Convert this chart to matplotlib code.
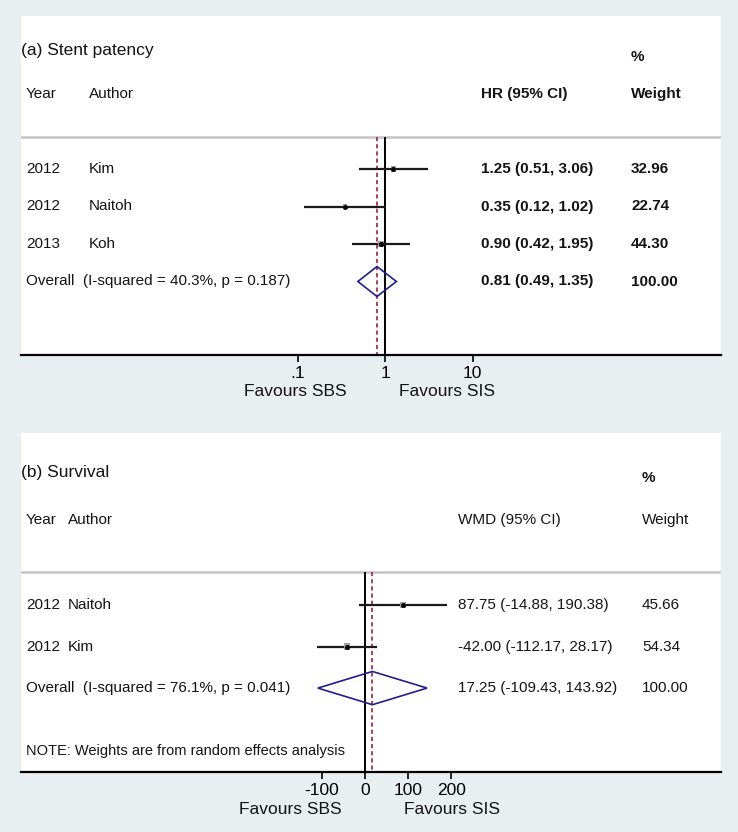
"""
Forest plots: (a) stent patency HR and (b) survival WMD, SBS vs SIS.
"""

import numpy as np
import matplotlib
matplotlib.use("Agg")
import matplotlib.pyplot as plt
import matplotlib.transforms as mtransforms
from matplotlib.patches import Polygon

plt.rcParams['font.family'] = ['Liberation Sans', 'DejaVu Sans']

# (a) stent patency, hazard ratios
a_years = ['2012', '2012', '2013']
a_authors = ['Kim', 'Naitoh', 'Koh']
a_est = [1.25, 0.35, 0.90]
a_low = [0.51, 0.12, 0.42]
a_high = [3.06, 1.02, 1.95]
a_weight = [32.96, 22.74, 44.30]
a_overall = [0.81, 0.49, 1.35]
a_het = 'Overall  (I-squared = 40.3%, p = 0.187)'
a_ticks = [0.1, 1, 10]
a_ticklabels = ['.1', '1', '10']

# (b) survival, weighted mean difference
b_years = ['2012', '2012']
b_authors = ['Naitoh', 'Kim']
b_est = [87.75, -42.00]
b_low = [-14.88, -112.17]
b_high = [190.38, 28.17]
b_weight = [45.66, 54.34]
b_overall = [17.25, -109.43, 143.92]
b_het = 'Overall  (I-squared = 76.1%, p = 0.041)'
b_ticks = [-100, 0, 100, 200]
b_ticklabels = ['-100', '0', '100', '200']

W, H = 738, 832
BG = '#e8eff1'
TXT = '#141414'
FS = 11

fig = plt.figure(figsize=(W / 100, H / 100), dpi=100, facecolor=BG)


def px_axes(x0, y0, x1, y1):
    """Axes placed by its pixel box (top-left origin)."""
    return fig.add_axes([x0 / W, 1 - y1 / H, (x1 - x0) / W, (y1 - y0) / H])


def fig_text(px, py, s, **kw):
    fig.text(px / W, 1 - py / H, s, **kw)


def forest(ax, years, authors, est, low, high, weight, overall, het,
           null_value, gray_y, cols, bold_vals):
    """Draw study rows, pooled diamond and the reference lines."""
    x0, x1 = 21, 721
    tr = mtransforms.blended_transform_factory(ax.transAxes, ax.transData)

    def col(px):
        return (px - x0) / (x1 - x0)

    rows = np.arange(len(est))
    ov_row = len(est)
    bottom = ax.get_ylim()[0]

    ax.axhline(gray_y, color='#c4c4c4', lw=1.8, zorder=1)
    ax.vlines(null_value, gray_y, bottom, color='black', lw=1.4, zorder=2)
    ax.vlines(overall[0], gray_y, bottom, color='#9b2335', lw=1.2,
              linestyles=(0, (2.5, 1.8)), zorder=2)

    ax.hlines(rows, low, high, color='#1a1a1a', lw=1.6, zorder=3)
    ax.scatter(est, rows, s=np.array(weight) * 0.4, marker='s',
               color='#a0a0a0', zorder=3, linewidths=0)
    ax.plot(est, rows, 'o', color='black', ms=2.6, zorder=4)

    e, lo, hi = overall
    ax.add_patch(Polygon([(lo, ov_row), (e, ov_row - 0.4), (hi, ov_row),
                          (e, ov_row + 0.4)], closed=True, fill=False,
                         ec='#1f1f8c', lw=1.2, zorder=4))

    vw = 'bold' if bold_vals else 'normal'
    for i in rows:
        ax.text(col(cols['year']), i, years[i], transform=tr, va='center',
                fontsize=FS, color=TXT)
        ax.text(col(cols['author']), i, authors[i], transform=tr,
                va='center', fontsize=FS, color=TXT)
        ax.text(col(cols['ci']), i,
                f'{est[i]:.2f} ({low[i]:.2f}, {high[i]:.2f})', transform=tr,
                va='center', fontsize=FS, color=TXT, fontweight=vw)
        ax.text(col(cols['wt']), i, f'{weight[i]:.2f}', transform=tr,
                va='center', fontsize=FS, color=TXT, fontweight=vw)
    ax.text(col(cols['year']), ov_row, het, transform=tr, va='center',
            fontsize=FS, color=TXT)
    ax.text(col(cols['ci']), ov_row,
            f'{overall[0]:.2f} ({overall[1]:.2f}, {overall[2]:.2f})',
            transform=tr, va='center', fontsize=FS, color=TXT, fontweight=vw)
    ax.text(col(cols['wt']), ov_row, '100.00', transform=tr, va='center',
            fontsize=FS, color=TXT, fontweight=vw)

    # header
    ax.text(col(cols['title']), cols['title_y'], cols['title_s'],
            transform=tr, va='center', fontsize=12.5, color=TXT)
    ax.text(col(cols['wt']), cols['pct_y'], '%', transform=tr, va='center',
            fontsize=FS, color=TXT, fontweight='bold')
    ax.text(col(cols['year']), cols['head_y'], 'Year', transform=tr,
            va='center', fontsize=FS, color=TXT)
    ax.text(col(cols['author']), cols['head_y'], 'Author', transform=tr,
            va='center', fontsize=FS, color=TXT)
    ax.text(col(cols['ci']), cols['head_y'], cols['eff'], transform=tr,
            va='center', fontsize=FS, color=TXT, fontweight=vw)
    ax.text(col(cols['wt']), cols['head_y'], 'Weight', transform=tr,
            va='center', fontsize=FS, color=TXT, fontweight=vw)


def style_axis(ax, ticks, ticklabels):
    for side in ['top', 'left', 'right']:
        ax.spines[side].set_visible(False)
    ax.spines['bottom'].set_linewidth(1.6)
    ax.spines['bottom'].set_color('black')
    ax.set_yticks([])
    ax.set_xticks(ticks)
    ax.set_xticklabels(ticklabels)
    ax.xaxis.set_minor_locator(matplotlib.ticker.NullLocator())
    ax.tick_params(axis='x', direction='out', length=5, width=1.2,
                   pad=3, labelsize=12.5, colors='black')
    ax.set_facecolor('white')


# ---- panel (a) ----
ax_a = px_axes(21, 16, 721, 355)
ax_a.set_xscale('log')
ax_a.set_xlim(10 ** ((21 - 385) / 87.5), 10 ** ((721 - 385) / 87.5))
ax_a.set_ylim(4.96, -4.08)
style_axis(ax_a, a_ticks, a_ticklabels)
forest(ax_a, a_years, a_authors, a_est, a_low, a_high, a_weight, a_overall,
       a_het, 1, -0.85,
       {'year': 26, 'author': 89, 'ci': 481, 'wt': 631, 'title': 21,
        'title_y': -3.17, 'pct_y': -2.99, 'head_y': -2.0,
        'title_s': '(a) Stent patency', 'eff': 'HR (95% CI)'},
       bold_vals=True)
fig_text(295, 392, 'Favours SBS', ha='center', va='center', fontsize=12.5,
         color=TXT)
fig_text(447, 392, 'Favours SIS', ha='center', va='center', fontsize=12.5,
         color=TXT)

# ---- panel (b) ----
ax_b = px_axes(21, 433, 721, 772)
ax_b.set_xlim((21 - 365) / 0.431, (721 - 365) / 0.431)
ax_b.set_ylim(4.02, -4.14)
style_axis(ax_b, b_ticks, b_ticklabels)
forest(ax_b, b_years, b_authors, b_est, b_low, b_high, b_weight, b_overall,
       b_het, 0, -0.8,
       {'year': 26, 'author': 68, 'ci': 458, 'wt': 642, 'title': 21,
        'title_y': -3.18, 'pct_y': -3.06, 'head_y': -2.05,
        'title_s': '(b) Survival', 'eff': 'WMD (95% CI)'},
       bold_vals=False)
ax_b.text(5 / 700, 3.52, 'NOTE: Weights are from random effects analysis',
          transform=mtransforms.blended_transform_factory(ax_b.transAxes,
                                                          ax_b.transData),
          va='center', fontsize=10.5, color=TXT)
fig_text(290, 810, 'Favours SBS', ha='center', va='center', fontsize=12.5,
         color=TXT)
fig_text(452, 810, 'Favours SIS', ha='center', va='center', fontsize=12.5,
         color=TXT)

fig.savefig('out.png', dpi=100, facecolor=BG)
